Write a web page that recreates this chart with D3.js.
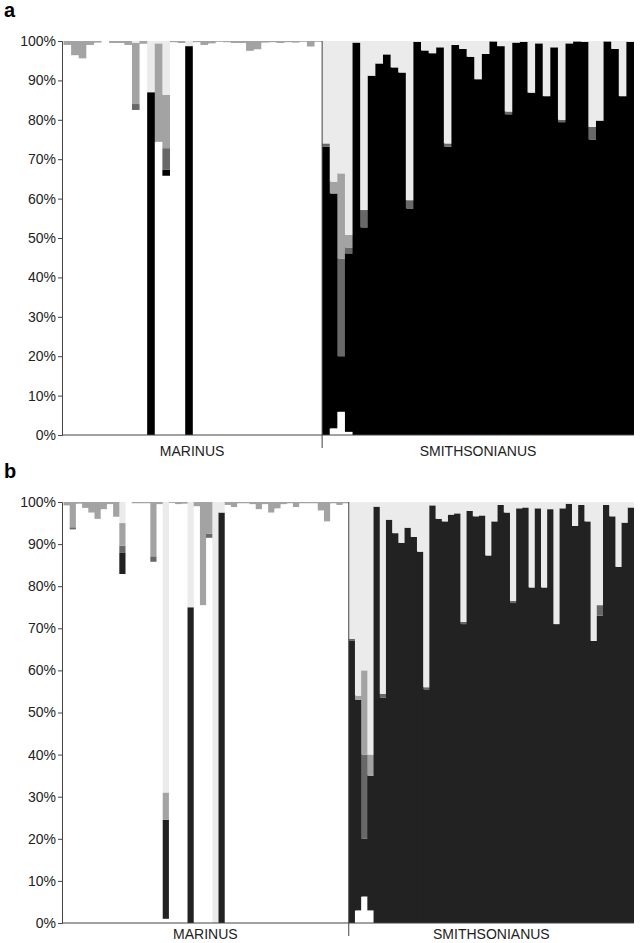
<!DOCTYPE html>
<html>
<head>
<meta charset="utf-8">
<script src="https://cdn.jsdelivr.net/npm/d3@7"></script>
<style>
  body { margin: 0; background: #fff; }
  svg { font-family: "Liberation Sans", Arial, sans-serif; }
</style>
</head>
<body>
<div id="graph"></div>
<script>
// clusters, stacked bottom to top
const clusters = ["white", "black", "dark", "mid", "light"];
const groups = ["MARINUS", "SMITHSONIANUS"];
const ticks = [0, 10, 20, 30, 40, 50, 60, 70, 80, 90, 100];

// panel a : 34 marinus + 41 smithsonianus individuals (% membership, light gray = rest)
const aWhite = [99, 96.4, 95.6, 99, 99.6, 100, 99.5, 99.5, 99, 82.5, 99.3, 0, 74.4, 65.8, 99.7, 99.5, 0, 99.7, 99, 99.4,
  99.8, 99.7, 99.5, 99.5, 97.5, 97.9, 99.6, 99.7, 99.5, 99.7, 99.6, 99.8, 98.6, 99.8,
  0, 1.7, 5.9, 0.8, 0, 0, 0, 0, 0, 0, 0, 0, 0, 0, 0, 0, 0, 0, 0, 0, 0, 0, 0, 0, 0, 0, 0, 0, 0, 0, 0, 0, 0, 0, 0, 0, 0, 0, 0, 0, 0];
const aBlack = [0, 0, 0, 0, 0, 0, 0, 0, 0, 0, 0, 87, 0, 1.5, 0, 0, 98.7, 0, 0, 0, 0, 0, 0, 0, 0, 0, 0, 0, 0, 0, 0, 0, 0, 0,
  73.2, 59.6, 14.1, 45.3, 99.6, 52.7, 91.2, 94.3, 96.6, 93.3, 92, 57.5, 99.8, 97.6, 96.9, 98.4, 73.2, 99, 98, 96,
  90.3, 96.7, 99.9, 98.7, 81.4, 99.6, 99.8, 86.9, 99.4, 86, 98.4, 79.4, 99.4, 99.9, 99.8, 75, 79.8, 99.9, 98, 86, 99.8];
const aDark = [0, 0, 0, 0, 0, 0, 0, 0, 0, 1.5, 0, 0, 0, 5.5, 0, 0, 0, 0, 0, 0, 0, 0, 0, 0, 0, 0, 0, 0, 0, 0, 0, 0, 0, 0,
  0.8, 0, 24.8, 1.5, 0, 4.4, 0, 0, 0, 0, 0, 2.1, 0, 0, 0, 0, 0.8, 0, 0, 0, 0, 0, 0, 0, 0.7, 0, 0, 0, 0, 0, 0, 0.6,
  0, 0, 0, 3.2, 0, 0, 0, 0, 0];
const aMid = [1, 3.6, 4.4, 1, 0.4, 0, 0.5, 0.5, 1, 15.5, 0.7, 0, 25, 13.5, 0.3, 0.5, 0, 0.3, 1, 0.6, 0.2, 0.3, 0.5, 0.5,
  2.5, 2.1, 0.4, 0.3, 0.5, 0.3, 0.4, 0.2, 1.4, 0.2,
  0, 3, 21.6, 3.2, 0, 0, 0, 0, 0, 0, 0, 0, 0, 0, 0, 0, 0, 0, 0, 0, 0, 0, 0, 0, 0, 0, 0, 0, 0, 0, 0, 0, 0, 0, 0, 0, 0, 0, 0, 0, 0];

// panel b : 46 marinus + 46 smithsonianus individuals
const bWhite = [99.2, 93.5, 99.6, 98.6, 97.5, 96, 98.3, 99.5, 96.5, 82.9, 100, 99.7, 99.7, 99.7, 85.8, 99.5, 1, 99.8, 99.5, 99.6,
  0, 99, 75.5, 91.5, 0, 0, 99.3, 98.8, 99.7, 99.7, 99.5, 98.3, 99.5, 97.5, 98.5, 99.5, 99.7, 98.8, 99.7, 99.7, 99.7, 98,
  95.4, 99.7, 99.3, 99.7,
  0, 3, 6.3, 3, 0, 0, 0, 0, 0, 0, 0, 0, 0, 0, 0, 0, 0, 0, 0, 0, 0, 0, 0, 0, 0, 0, 0, 0, 0, 0, 0, 0, 0, 0, 0, 0, 0, 0,
  0, 0, 0, 0, 0, 0, 0, 0];
const bBlack = [0, 0, 0, 0, 0, 0, 0, 0, 0, 5, 0, 0, 0, 0, 0, 0, 23.5, 0, 0, 0, 75, 0, 0, 0, 0, 97.5, 0, 0, 0, 0, 0, 0, 0, 0,
  0, 0, 0, 0, 0, 0, 0, 0, 0, 0, 0, 0,
  67, 50, 13.7, 32, 98.9, 53.5, 95.8, 92.6, 90.3, 93.9, 91.7, 88.2, 55.5, 99.2, 96, 95.4, 97, 97.3, 71, 97.9, 96.6, 96.8,
  87.3, 95.4, 99.3, 97.5, 76, 98.5, 98.7, 79.7, 98.5, 79.7, 98.3, 71, 98.5, 99.6, 94.3, 99.3, 95.4, 67, 73, 99.3, 96.6,
  84.6, 95.1, 98.7];
const bDark = [0, 0.5, 0, 0, 0, 0, 0, 0, 0, 1.7, 0, 0, 0, 0, 1.3, 0, 0, 0, 0, 0, 0, 0, 0, 1, 0, 0, 0, 0, 0, 0, 0, 0, 0, 0,
  0, 0, 0, 0, 0, 0, 0, 0, 0, 0, 0, 0,
  0.5, 0, 20, 0, 0, 0.9, 0, 0, 0, 0, 0, 0, 0.5, 0, 0, 0, 0, 0, 0.5, 0, 0, 0, 0, 0, 0, 0, 0.5, 0, 0, 0, 0, 0, 0, 0, 0, 0,
  0, 0, 0, 0, 2.5, 0, 0, 0, 0, 0, 0];
const bMid = [0.8, 6, 0.4, 1.4, 2.5, 4, 1.7, 0.5, 3.5, 5.4, 0, 0.3, 0.3, 0.3, 12.9, 0.5, 6.5, 0.2, 0.5, 0.4, 0, 1, 24.5, 7.5,
  0, 0, 0.7, 1.2, 0.3, 0.3, 0.5, 1.7, 0.5, 2.5, 1.5, 0.5, 0.3, 1.2, 0.3, 0.3, 0.3, 2, 4.6, 0.3, 0.7, 0.3,
  0, 1, 20, 5, 0, 0, 0, 0, 0, 0, 0, 0, 0, 0, 0, 0, 0, 0, 0, 0, 0, 0, 0, 0, 0, 0, 0, 0, 0, 0, 0, 0, 0, 0, 0, 0, 0, 0,
  0, 0, 0, 0, 0, 0, 0, 0];

const W = 641, H = 943;
const svg = d3.select("#graph")
  .append("svg")
    .attr("width", W)
    .attr("height", H);

// build rows for d3.stack (light gray takes what is left up to 100%)
function rows(white, black, dark, mid) {
  return white.map((w, i) => {
    const light = Math.max(0, 100 - w - black[i] - dark[i] - mid[i]);
    return {id: i, white: w, black: black[i], dark: dark[i], mid: mid[i], light: light};
  });
}

function drawPanel(p) {
  const data = rows(p.white, p.black, p.dark, p.mid);
  const g = svg.append("g");

  const x = d3.scaleBand()
    .domain(data.map(d => d.id))
    .range([p.left + 1.5, p.right])
    .padding(0);
  const y = d3.scaleLinear()
    .domain([0, 100])
    .range([p.bottom, p.top]);

  const fill = {white: "#ffffff", black: p.black_col, dark: "#686868", mid: "#a3a3a3", light: "#ebebeb"};
  const stacked = d3.stack().keys(clusters)(data);

  // one group per individual, drawn left to right; each bar is 1px wider
  // so that the next bar covers the overlap (no seams between bars)
  g.selectAll("g.bar")
    .data(data)
    .join("g")
      .attr("class", "bar")
    .selectAll("rect")
    .data(d => stacked.map(s => ({key: s.key, id: d.id, y0: s[d.id][0], y1: s[d.id][1]})))
    .join("rect")
      .attr("x", d => x(d.id))
      .attr("y", d => y(d.y1))
      .attr("width", d => x.bandwidth() + (d.id < data.length - 1 ? 1 : 0))
      .attr("height", d => Math.max(0, y(d.y0) - y(d.y1)))
      .attr("fill", d => fill[d.key]);

  // y axis
  const yAxis = g.append("g")
    .attr("transform", `translate(${p.left},0)`)
    .call(d3.axisLeft(y).tickValues(ticks).tickSize(4).tickFormat(d => d + "%"));
  yAxis.select(".domain").attr("stroke", "#444");
  yAxis.selectAll(".tick line").attr("stroke", "#444");
  yAxis.selectAll(".tick text")
    .attr("font-family", "Liberation Sans, Arial, sans-serif")
    .attr("font-size", 14)
    .attr("fill", "#222")
    .attr("x", -6);

  // x baseline
  g.append("line")
    .attr("x1", p.left).attr("x2", p.right)
    .attr("y1", p.bottom).attr("y2", p.bottom)
    .attr("stroke", "#444");

  // group divider
  const xd = x(p.nMar);
  g.append("line")
    .attr("x1", xd).attr("x2", xd)
    .attr("y1", p.top).attr("y2", p.bottom + 13)
    .attr("stroke", "#444");

  g.selectAll("text.grp")
    .data(groups)
    .join("text")
      .attr("class", "grp")
      .attr("x", (d, i) => i === 0 ? (p.left + xd) / 2 : (xd + p.right) / 2)
      .attr("y", p.bottom + p.labelDy)
      .attr("text-anchor", "middle")
      .attr("font-size", 14)
      .attr("fill", "#222")
      .text(d => d);

  svg.append("text")
    .attr("x", 4)
    .attr("y", p.top - 24)
    .attr("font-size", 20)
    .attr("font-weight", "bold")
    .text(p.label);
}

drawPanel({label: "a", white: aWhite, black: aBlack, dark: aDark, mid: aMid, black_col: "#000",
  nMar: 34, left: 62, right: 634, top: 41, bottom: 435, labelDy: 21});
drawPanel({label: "b", white: bWhite, black: bBlack, dark: bDark, mid: bMid, black_col: "#222",
  nMar: 46, left: 62, right: 634, top: 502, bottom: 923, labelDy: 16});
</script>
</body>
</html>
